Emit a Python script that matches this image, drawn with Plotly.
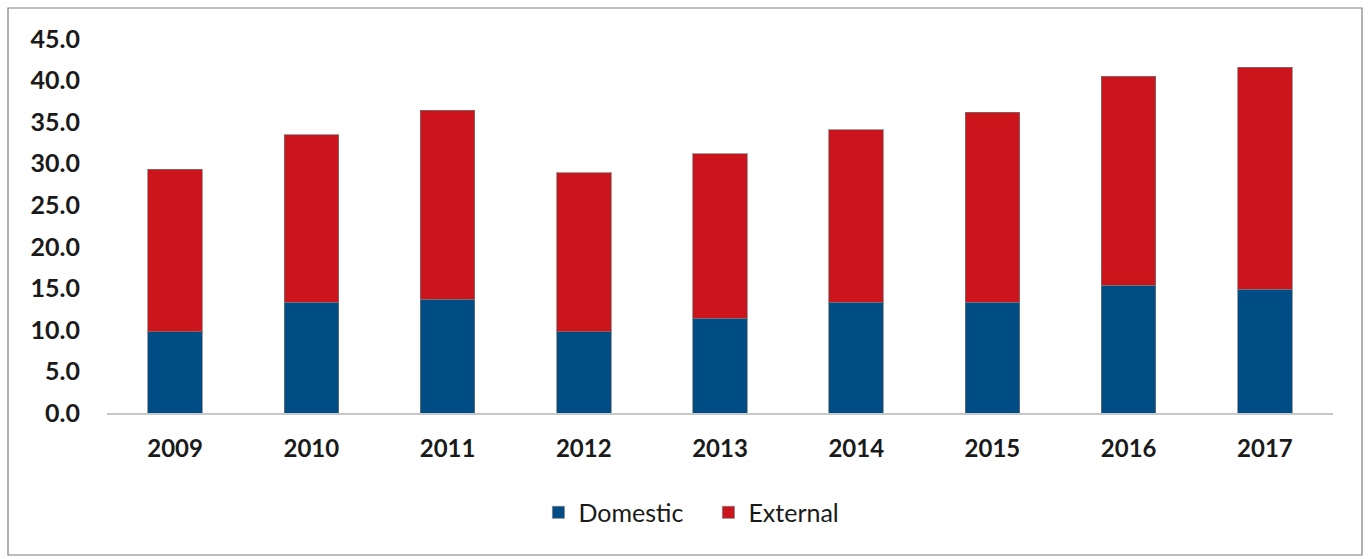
import plotly.graph_objects as go

years = ["2009", "2010", "2011", "2012", "2013", "2014", "2015", "2016", "2017"]
domestic = [9.8, 13.3, 13.7, 9.8, 11.4, 13.3, 13.3, 15.4, 14.9]
external = [19.5, 20.2, 22.7, 19.1, 19.8, 20.8, 22.9, 25.1, 26.7]

W, H = 1370, 559
ML, MR, MT, MB = 107, 37, 39, 146

TEXT = "#1A1A1A"
FONT = "Lato, Arial, sans-serif"

fig = go.Figure()
fig.add_trace(go.Bar(
    x=years, y=domestic, name="Domestic",
    marker=dict(color="#004C84", line=dict(color="rgba(120,120,120,0.7)", width=1)),
))
fig.add_trace(go.Bar(
    x=years, y=external, name="External",
    marker=dict(color="#CC141C", line=dict(color="rgba(120,120,120,0.7)", width=1)),
))

# outer frame around the whole chart
pw = W - ML - MR
ph = H - MT - MB
fig.add_shape(
    type="rect", xref="paper", yref="paper",
    x0=(8 - ML) / pw, x1=(1362 - ML) / pw,
    y0=(H - MB - 555) / ph, y1=(H - MB - 8) / ph,
    line=dict(color="#7F7F7F", width=1.2), fillcolor="rgba(0,0,0,0)", layer="below",
)

fig.update_layout(
    width=W, height=H,
    margin=dict(l=ML, r=MR, t=MT, b=MB),
    barmode="stack", bargap=0.6,
    plot_bgcolor="white", paper_bgcolor="white",
    font=dict(family=FONT, color=TEXT),
    showlegend=True,
    legend=dict(
        orientation="h", xref="container", x=0.393, xanchor="left",
        yref="container", y=0.083, yanchor="middle",
        font=dict(size=25, color=TEXT), traceorder="normal",
        itemwidth=30, entrywidth=125, bgcolor="rgba(0,0,0,0)",
    ),
    xaxis=dict(
        showline=True, linecolor="#C8C8C8", linewidth=2,
        showgrid=False, ticks="", ticklabelstandoff=13,
        tickfont=dict(size=24, family=FONT, weight="bold", color=TEXT),
    ),
    yaxis=dict(
        range=[0, 45], tickvals=[0, 5, 10, 15, 20, 25, 30, 35, 40, 45],
        tickformat=".1f", showgrid=False, zeroline=False, showline=False,
        ticks="", ticklabelstandoff=26,
        tickfont=dict(size=25, family=FONT, weight="bold", color=TEXT),
    ),
)

fig.write_html("out.html")
